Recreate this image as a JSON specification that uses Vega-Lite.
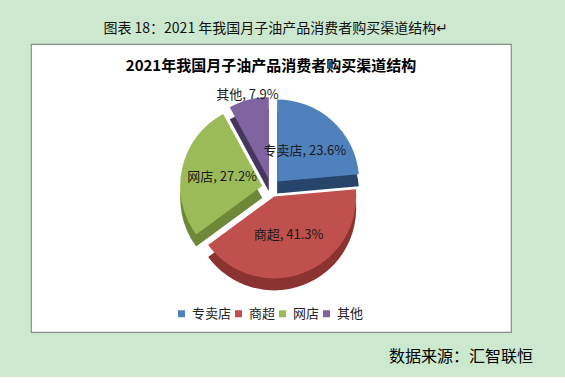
{
  "$schema": "https://vega.github.io/schema/vega-lite/v6.json",
  "background": "#CCE8CF",
  "padding": {"left": 30, "top": 22, "right": 33, "bottom": 10},
  "title": {"text": "图表 18：2021 年我国月子油产品消费者购买渠道结构↵", "fontSize": 14, "fontWeight": "normal", "font": "Noto Sans CJK SC", "color": "#111111", "anchor": "start", "dx": 73, "dy": 3, "offset": 10},
  "spacing": 14,
  "config": {
    "view": {"stroke": null},
    "font": "Noto Sans CJK SC",
    "legend": {"orient": "none", "legendX": 144, "legendY": 263, "direction": "horizontal", "symbolType": "square", "symbolSize": 49, "symbolStrokeWidth": 0, "labelFontSize": 13, "labelFont": "Noto Sans CJK SC", "labelColor": "#222222", "columnPadding": 0, "labelOffset": 4}
  },
  "vconcat": [
    {
      "width": 480,
      "height": 288,
      "view": {"fill": "white", "stroke": "#8a8a8a", "strokeWidth": 1.2},
      "title": {"text": "2021年我国月子油产品消费者购买渠道结构", "fontSize": 15, "fontWeight": "bold", "font": "Noto Sans CJK SC", "color": "#000000", "anchor": "middle", "offset": -30},
      "data": {"values": [
        {"渠道": "专卖店", "占比": 23.6},
        {"渠道": "商超", "占比": 41.3},
        {"渠道": "网店", "占比": 27.2},
        {"渠道": "其他", "占比": 7.9}
      ]},
      "transform": [{"stack": "占比", "groupby": [], "as": ["起", "止"]}],
      "layer": [
        {"transform": [{"filter": "datum['渠道'] === '其他'"}], "mark": {"type": "arc", "radius": 82, "color": "#45365E", "xOffset": -2.2, "yOffset": 3.3},
         "encoding": {"theta": {"field": "起", "type": "quantitative", "scale": {"domain": [0, 100]}}, "theta2": {"field": "止"}}},
        {"transform": [{"filter": "datum['渠道'] === '专卖店'"}], "mark": {"type": "arc", "radius": 82, "color": "#27456A", "xOffset": 6.1, "yOffset": 5.4},
         "encoding": {"theta": {"field": "起", "type": "quantitative", "scale": {"domain": [0, 100]}}, "theta2": {"field": "止"}}},
        {"transform": [{"filter": "datum['渠道'] === '网店'"}], "mark": {"type": "arc", "radius": 82, "color": "#6C8838", "xOffset": -8.8, "yOffset": 10},
         "encoding": {"theta": {"field": "起", "type": "quantitative", "scale": {"domain": [0, 100]}}, "theta2": {"field": "止"}}},
        {"transform": [{"filter": "datum['渠道'] === '商超'"}], "mark": {"type": "arc", "radius": 82, "color": "#8A3330", "xOffset": 3.2, "yOffset": 20.4},
         "encoding": {"theta": {"field": "起", "type": "quantitative", "scale": {"domain": [0, 100]}}, "theta2": {"field": "止"}}},

        {"transform": [{"filter": "datum['渠道'] === '其他'"}], "mark": {"type": "arc", "radius": 82, "xOffset": -2.2, "yOffset": -8.7},
         "encoding": {"theta": {"field": "起", "type": "quantitative", "scale": {"domain": [0, 100]}}, "theta2": {"field": "止"},
           "color": {"field": "渠道", "type": "nominal", "scale": {"domain": ["专卖店", "商超", "网店", "其他"], "range": ["#4F81BD", "#C0504D", "#9BBB59", "#8064A2"]}, "legend": {"title": null}}}},
        {"transform": [{"filter": "datum['渠道'] === '专卖店'"}], "mark": {"type": "arc", "radius": 82, "xOffset": 6.1, "yOffset": -6.6},
         "encoding": {"theta": {"field": "起", "type": "quantitative", "scale": {"domain": [0, 100]}}, "theta2": {"field": "止"},
           "color": {"field": "渠道", "type": "nominal", "scale": {"domain": ["专卖店", "商超", "网店", "其他"], "range": ["#4F81BD", "#C0504D", "#9BBB59", "#8064A2"]}, "legend": {"title": null}}}},
        {"transform": [{"filter": "datum['渠道'] === '网店'"}], "mark": {"type": "arc", "radius": 82, "xOffset": -8.8, "yOffset": -2.0},
         "encoding": {"theta": {"field": "起", "type": "quantitative", "scale": {"domain": [0, 100]}}, "theta2": {"field": "止"},
           "color": {"field": "渠道", "type": "nominal", "scale": {"domain": ["专卖店", "商超", "网店", "其他"], "range": ["#4F81BD", "#C0504D", "#9BBB59", "#8064A2"]}, "legend": {"title": null}}}},
        {"transform": [{"filter": "datum['渠道'] === '商超'"}], "mark": {"type": "arc", "radius": 82, "xOffset": 3.2, "yOffset": 8.4},
         "encoding": {"theta": {"field": "起", "type": "quantitative", "scale": {"domain": [0, 100]}}, "theta2": {"field": "止"},
           "color": {"field": "渠道", "type": "nominal", "scale": {"domain": ["专卖店", "商超", "网店", "其他"], "range": ["#4F81BD", "#C0504D", "#9BBB59", "#8064A2"]}, "legend": {"title": null}}}},

        {"mark": {"type": "text", "radius": 50, "fontSize": 13, "font": "Noto Sans CJK SC", "color": "#1a1a1a", "text": {"expr": "datum['渠道'] + ', ' + format(datum['占比'], '.1f') + '%'"}},
         "encoding": {"theta": {"field": "占比", "type": "quantitative", "stack": true}, "order": {"field": "起"}, "detail": {"field": "渠道"},
           "opacity": {"condition": {"test": "datum['渠道'] === '其他'", "value": 0}, "value": 1}}},
        {"mark": {"type": "text", "radius": 96, "fontSize": 13, "font": "Noto Sans CJK SC", "color": "#1a1a1a", "text": {"expr": "datum['渠道'] + ', ' + format(datum['占比'], '.1f') + '%'"}},
         "encoding": {"theta": {"field": "占比", "type": "quantitative", "stack": true}, "order": {"field": "起"}, "detail": {"field": "渠道"},
           "opacity": {"condition": {"test": "datum['渠道'] === '其他'", "value": 1}, "value": 0}}}
      ]
    },
    {
      "width": 502,
      "height": 20,
      "data": {"values": [{"来源": "数据来源：汇智联恒"}]},
      "mark": {"type": "text", "align": "right", "baseline": "middle", "fontSize": 16, "font": "Noto Sans CJK SC", "color": "#000000"},
      "encoding": {
        "text": {"field": "来源"},
        "x": {"datum": 1, "type": "quantitative", "scale": {"domain": [0, 1]}, "axis": null},
        "y": {"datum": 0.5, "type": "quantitative", "scale": {"domain": [0, 1]}, "axis": null}
      }
    }
  ]
}
